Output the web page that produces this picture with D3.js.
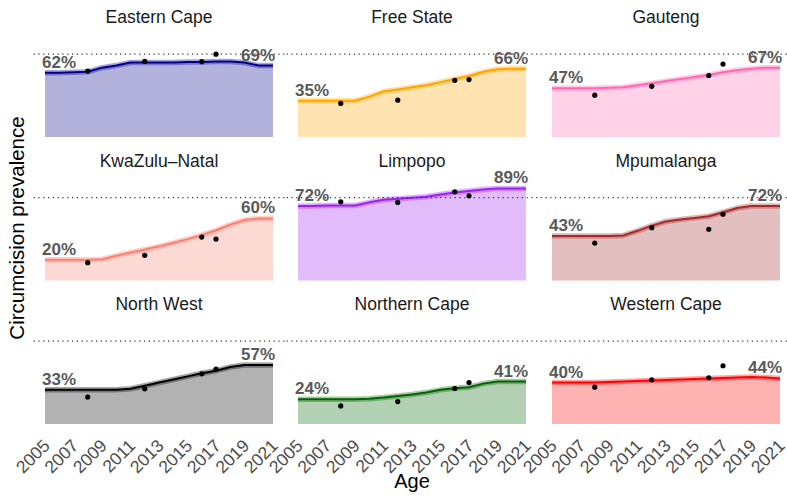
<!DOCTYPE html>
<html>
<head>
<meta charset="utf-8">
<script src="https://cdn.jsdelivr.net/npm/d3@7"></script>
<style>
  body { margin: 0; background: #fff; }
  text { font-family: "Liberation Sans", Arial, sans-serif; }
</style>
</head>
<body>
<svg width="787" height="496"></svg>
<script>
var svg = d3.select("svg");

var provinces = ["Eastern Cape", "Free State", "Gauteng",
                 "KwaZulu\u2013Natal", "Limpopo", "Mpumalanga",
                 "North West", "Northern Cape", "Western Cape"];
var colors = ["#00008B", "#FFA500", "#FF69B4",
              "#FA8072", "#A020F0", "#A52A2A",
              "#000000", "#006400", "#FF0000"];

var years = d3.range(2005, 2022);
var tickYears = [2005, 2007, 2009, 2011, 2013, 2015, 2017, 2019, 2021];
var surveyYears = [2008, 2012, 2016, 2017];

// modelled prevalence (%), one row per province, 2005..2021
var fitted = [
  [62, 62, 62.5, 63, 67, 69, 72, 72, 72, 72, 72.5, 72.5, 73, 73, 72, 69, 69],
  [35, 35, 35, 35, 35, 39, 44, 46, 48, 50, 53, 56, 59, 63, 65.5, 66, 66],
  [47, 47, 47, 47, 47.5, 48, 50, 52, 54, 56, 58, 60, 62.5, 64.5, 66, 67, 67],
  [20, 20, 20, 20, 20.5, 24, 27, 30, 33, 36.5, 40, 44, 48.5, 54, 58.5, 60, 60],
  [72, 72, 72.5, 72.5, 72.5, 75.5, 78, 79, 80, 81, 83, 85, 86.5, 88, 89, 89, 89],
  [43, 43, 43, 43, 43, 43.5, 48, 53, 57, 59, 60.5, 62, 66, 70, 72, 72, 72],
  [33, 33, 33, 33, 33, 33, 34, 37, 40, 43, 46, 49, 51.5, 55, 57, 57, 57],
  [24, 24, 24, 24, 24, 24.5, 25.5, 27, 28.5, 30.5, 33, 34.5, 35.5, 39, 41, 41, 41],
  [40, 40, 40, 40.2, 40.5, 41, 41.5, 42, 42.5, 43, 43.5, 44, 44.5, 45, 45.3, 45, 44]
];

// survey estimates (%), at surveyYears
var surveys = [
  [63.7, 73, 72.8, 80],
  [32.4, 35.6, 54.8, 55.5],
  [40.4, 49, 59.3, 70.5],
  [17.2, 24.3, 42, 40],
  [76, 75.4, 85.7, 81.8],
  [36.2, 51, 49.5, 64],
  [26, 34, 48.5, 53],
  [17.5, 21.7, 34.3, 40],
  [35.6, 42.7, 44.7, 56.3]
];

var target = 80;

var colX = [45, 298, 552];
var rowBottom = [137, 280.5, 424];
var panelW = 228;
var pxPerPct = 1.035;

provinces.forEach(function(name, i) {
  var col = i % 3, row = Math.floor(i / 3);
  var x = d3.scaleLinear().domain([2005, 2021]).range([colX[col], colX[col] + panelW]);
  var y = d3.scaleLinear().domain([0, 100]).range([rowBottom[row], rowBottom[row] - 100 * pxPerPct]);
  var g = svg.append("g");
  var rows = years.map(function(yr, k) { return { year: yr, v: fitted[i][k] }; });

  g.append("path")
    .datum(rows)
    .attr("fill", colors[i])
    .attr("fill-opacity", 0.3)
    .attr("d", d3.area().x(function(d) { return x(d.year); }).y0(y(0)).y1(function(d) { return y(d.v); }));

  var line = d3.line().x(function(d) { return x(d.year); }).y(function(d) { return y(d.v); });
  // soft band round the line
  g.append("path").datum(rows)
    .attr("fill", "none").attr("stroke", colors[i]).attr("stroke-opacity", 0.35)
    .attr("stroke-width", 5.5).attr("stroke-linejoin", "round")
    .attr("d", line);
  g.append("path").datum(rows)
    .attr("fill", "none").attr("stroke", colors[i])
    .attr("stroke-width", 2).attr("stroke-linejoin", "round")
    .attr("d", line);

  // dotted target line over the expanded panel width
  g.append("line")
    .attr("x1", x(2004.2)).attr("x2", x(2021.8))
    .attr("y1", y(target)).attr("y2", y(target))
    .attr("stroke", "#333").attr("stroke-width", 1.2)
    .attr("stroke-dasharray", "1.2,3.6");

  g.selectAll("circle")
    .data(surveyYears.map(function(yr, k) { return { year: yr, v: surveys[i][k] }; }))
    .enter().append("circle")
    .attr("cx", function(d) { return x(d.year); })
    .attr("cy", function(d) { return y(d.v); })
    .attr("r", 2.6)
    .attr("fill", "#000");

  var first = fitted[i][0], last = fitted[i][fitted[i].length - 1];
  g.append("text")
    .attr("x", x(2005) - 3).attr("y", y(first) - 5)
    .attr("font-size", 17).attr("font-weight", "bold").attr("fill", "#595959")
    .text(Math.round(first) + "%");
  g.append("text")
    .attr("x", x(2021) + 2).attr("y", y(last) - 5)
    .attr("text-anchor", "end")
    .attr("font-size", 17).attr("font-weight", "bold").attr("fill", "#595959")
    .text(Math.round(last) + "%");

  // strip title
  g.append("text")
    .attr("x", x(2013)).attr("y", rowBottom[row] - 114)
    .attr("text-anchor", "middle")
    .attr("font-size", 17.5).attr("fill", "#1a1a1a")
    .text(name);

  // x tick labels on bottom row
  if (row === 2) {
    g.selectAll(".tick")
      .data(tickYears)
      .enter().append("text")
      .attr("class", "tick")
      .attr("transform", function(d) { return "translate(" + (x(d) - 3) + "," + (rowBottom[row] + 14) + ") rotate(-45)"; })
      .attr("text-anchor", "end")
      .attr("dy", "0.71em")
      .attr("font-size", 17.5).attr("fill", "#4d4d4d")
      .text(function(d) { return d; });
  }
});

svg.append("text")
  .attr("x", 412).attr("y", 488)
  .attr("text-anchor", "middle")
  .attr("font-size", 20).attr("fill", "#000")
  .text("Age");

svg.append("text")
  .attr("transform", "translate(24,228) rotate(-90)")
  .attr("text-anchor", "middle")
  .attr("font-size", 20.5).attr("fill", "#000")
  .text("Circumcision prevalence");
</script>
</body>
</html>
